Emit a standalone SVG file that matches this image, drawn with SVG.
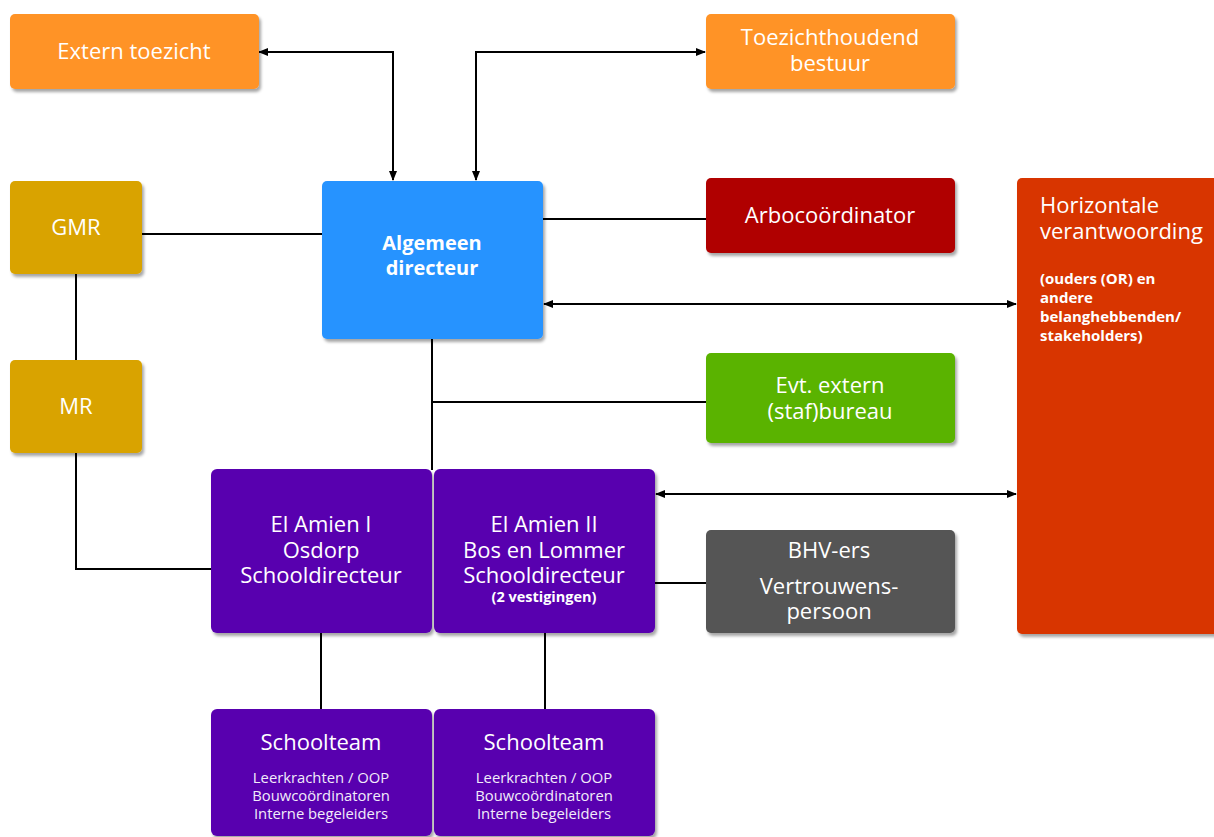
<svg xmlns="http://www.w3.org/2000/svg" width="1214" height="837" viewBox="0 0 1214 837">
<style>
.box{stroke:none;filter:url(#sh)}
.t{font-family:"Open Sans","Noto Sans",sans-serif;font-size:22px;fill:#ffffff;text-anchor:middle}
.tl{font-family:"Open Sans","Noto Sans",sans-serif;font-size:22px;fill:#ffffff}
.b{font-family:"Open Sans","Noto Sans",sans-serif;font-weight:bold;fill:#ffffff}
.s{font-family:"Open Sans","Noto Sans",sans-serif;font-size:14.8px;fill:#f2ecfa;text-anchor:middle}
.c{fill:none;stroke:#000000;stroke-width:2}
.a2{marker-start:url(#ahs);marker-end:url(#ah)}
</style>
<defs>
<filter id="sh" x="-5%" y="-5%" width="115%" height="115%">
<feDropShadow dx="2" dy="3" stdDeviation="1.5" flood-color="#000000" flood-opacity="0.35"/>
</filter>
<marker id="ah" markerWidth="10" markerHeight="8" refX="9" refY="4" orient="auto" markerUnits="userSpaceOnUse">
<path d="M0,0 L10,4 L0,8 z" fill="#000000"/>
</marker>
<marker id="ahs" markerWidth="10" markerHeight="8" refX="1" refY="4" orient="auto" markerUnits="userSpaceOnUse">
<path d="M10,0 L0,4 L10,8 z" fill="#000000"/>
</marker>
</defs>
<rect width="1214" height="837" fill="#ffffff"/>

<g id="connectors">
<path class="c a2" d="M259,52 L393,52 L393,180"/>
<path class="c a2" d="M476,180 L476,52 L705,52"/>
<path class="c" d="M142,234 L322,234"/>
<path class="c" d="M76,274 L76,360"/>
<path class="c" d="M76,453 L76,569 L211,569"/>
<path class="c" d="M543,219 L706,219"/>
<path class="c a2" d="M544,304 L1016,304"/>
<path class="c" d="M432,339 L432,470"/>
<path class="c" d="M432,402 L706,402"/>
<path class="c a2" d="M656,494 L1016,494"/>
<path class="c" d="M655,583 L706,583"/>
<path class="c" d="M321,633 L321,709"/>
<path class="c" d="M545,633 L545,709"/>
</g>

<g id="extern-toezicht">
<rect class="box" x="10" y="14" width="249" height="75" rx="5" fill="#ff9326"/>
<text class="t" x="134" y="59">Extern toezicht</text>
</g>

<g id="toezichthoudend-bestuur">
<rect class="box" x="706" y="14" width="249" height="75" rx="5" fill="#ff9326"/>
<text class="t"><tspan x="830" y="45">Toezichthoudend</tspan><tspan x="830" y="71">bestuur</tspan></text>
</g>

<g id="gmr">
<rect class="box" x="10" y="181" width="132" height="93" rx="5" fill="#d9a300"/>
<text class="t" x="76" y="235">GMR</text>
</g>

<g id="mr">
<rect class="box" x="10" y="360" width="132" height="93" rx="5" fill="#d9a300"/>
<text class="t" x="76" y="414">MR</text>
</g>

<g id="algemeen-directeur">
<rect class="box" x="322" y="181" width="221" height="158" rx="5" fill="#2893ff"/>
<text class="b" font-size="20" text-anchor="middle"><tspan x="432" y="250">Algemeen</tspan><tspan x="432" y="275">directeur</tspan></text>
</g>

<g id="arbocoordinator">
<rect class="box" x="706" y="178" width="249" height="75" rx="5" fill="#b00000"/>
<text class="t" x="830" y="223">Arbocoördinator</text>
</g>

<g id="horizontale-verantwoording">
<rect class="box" x="1017" y="178" width="205" height="456" rx="5" fill="#d83600"/>
<text class="tl"><tspan x="1040" y="213">Horizontale</tspan><tspan x="1040" y="239">verantwoording</tspan></text>
<text class="b" font-size="15"><tspan x="1040" y="284">(ouders (OR) en</tspan><tspan x="1040" y="303">andere</tspan><tspan x="1040" y="322">belanghebbenden/</tspan><tspan x="1040" y="341">stakeholders)</tspan></text>
</g>

<g id="evt-extern-stafbureau">
<rect class="box" x="706" y="353" width="249" height="90" rx="5" fill="#5ab300"/>
<text class="t"><tspan x="830" y="393">Evt. extern</tspan><tspan x="830" y="419">(staf)bureau</tspan></text>
</g>

<g id="el-amien-1">
<rect class="box" x="211" y="469" width="221" height="164" rx="6" fill="#5900af"/>
<text class="t"><tspan x="321" y="532">El Amien I</tspan><tspan x="321" y="558">Osdorp</tspan><tspan x="321" y="583">Schooldirecteur</tspan></text>
</g>

<g id="el-amien-2">
<rect class="box" x="434" y="469" width="221" height="164" rx="6" fill="#5900af"/>
<text class="t"><tspan x="544" y="532">El Amien II</tspan><tspan x="544" y="558">Bos en Lommer</tspan><tspan x="544" y="583">Schooldirecteur</tspan><tspan x="544" y="602" font-size="14.5" font-weight="bold">(2 vestigingen)</tspan></text>
</g>

<g id="bhv-vertrouwenspersoon">
<rect class="box" x="706" y="530" width="249" height="103" rx="5" fill="#555555"/>
<text class="t" x="829" y="558">BHV-ers</text>
<text class="t"><tspan x="829" y="594">Vertrouwens-</tspan><tspan x="829" y="619">persoon</tspan></text>
</g>

<g id="schoolteam-1">
<rect class="box" x="211" y="709" width="221" height="127" rx="6" fill="#5900af"/>
<text class="t" x="321" y="750" font-size="21">Schoolteam</text>
<text class="s"><tspan x="321" y="783">Leerkrachten / OOP</tspan><tspan x="321" y="801">Bouwcoördinatoren</tspan><tspan x="321" y="819">Interne begeleiders</tspan></text>
</g>

<g id="schoolteam-2">
<rect class="box" x="434" y="709" width="221" height="127" rx="6" fill="#5900af"/>
<text class="t" x="544" y="750" font-size="21">Schoolteam</text>
<text class="s"><tspan x="544" y="783">Leerkrachten / OOP</tspan><tspan x="544" y="801">Bouwcoördinatoren</tspan><tspan x="544" y="819">Interne begeleiders</tspan></text>
</g>
</svg>
